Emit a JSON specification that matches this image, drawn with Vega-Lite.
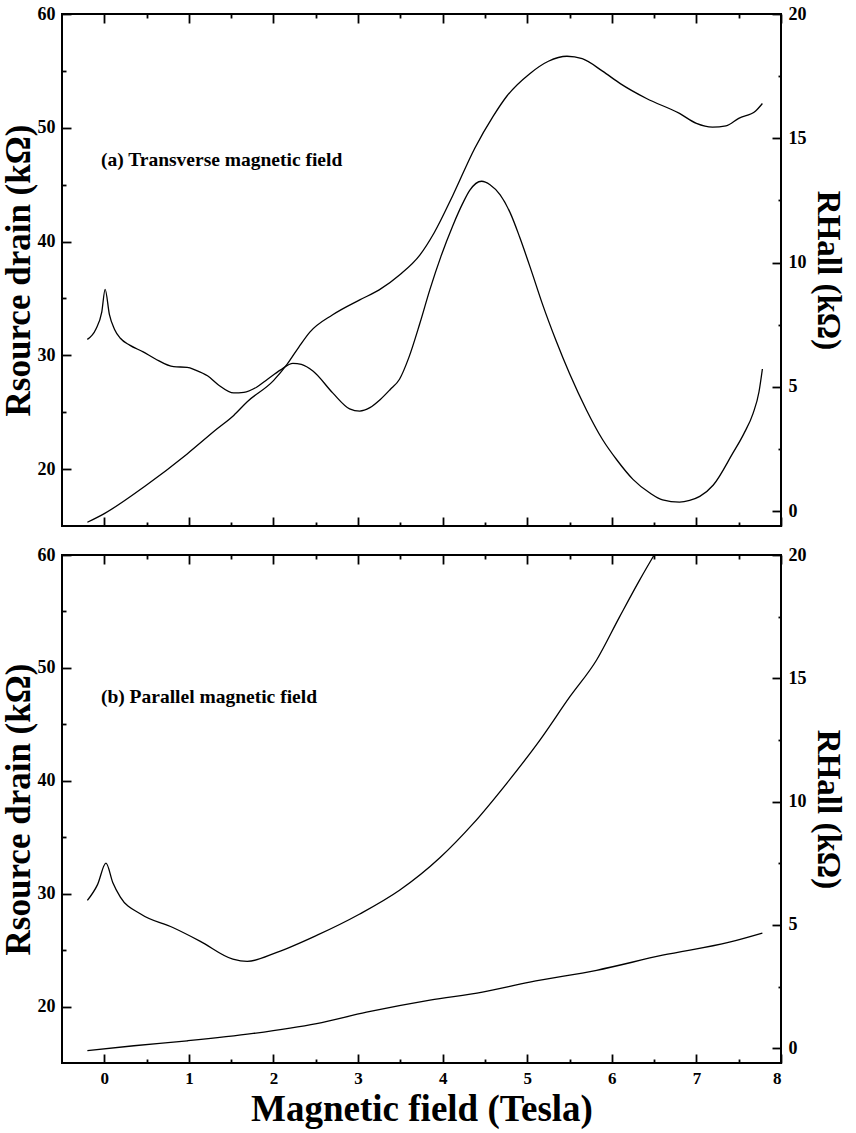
{
  "$schema": "https://vega.github.io/schema/vega-lite/v6.json",
  "background": "white",
  "padding": {"left": 0, "top": 4, "right": 4, "bottom": 4},
  "config": {
    "font": "Liberation Serif",
    "view": {"stroke": "black", "strokeWidth": 2},
    "axis": {
      "labelFont": "Liberation Serif",
      "labelFontWeight": "bold",
      "labelFontSize": 18,
      "labelColor": "black",
      "titleFont": "Liberation Serif",
      "titleFontWeight": "bold",
      "titleColor": "black",
      "domain": false,
      "ticks": true,
      "tickColor": "black",
      "tickOpacity": 1,
      "tickWidth": 1.8,
      "tickSize": 9,
      "offset": -9,
      "labelPadding": 7,
      "zindex": 1,
      "grid": false
    },
    "line": {"color": "black", "strokeWidth": 1.3, "interpolate": "monotone"}
  },
  "datasets": {
    "a_sd": [
      {"B": -0.2, "R": 31.4}, {"B": -0.1, "R": 32.3}, {"B": -0.03, "R": 33.8}, {"B": 0.01, "R": 35.8},
      {"B": 0.06, "R": 33.6}, {"B": 0.12, "R": 32.3}, {"B": 0.19, "R": 31.5}, {"B": 0.3, "R": 30.9},
      {"B": 0.46, "R": 30.3}, {"B": 0.6, "R": 29.7}, {"B": 0.82, "R": 29.0}, {"B": 0.98, "R": 28.95},
      {"B": 1.08, "R": 28.7}, {"B": 1.22, "R": 28.2}, {"B": 1.35, "R": 27.4}, {"B": 1.53, "R": 26.7},
      {"B": 1.65, "R": 26.75}, {"B": 1.8, "R": 27.2}, {"B": 1.93, "R": 27.9}, {"B": 2.08, "R": 28.7},
      {"B": 2.23, "R": 29.3}, {"B": 2.33, "R": 29.2}, {"B": 2.47, "R": 28.6}, {"B": 2.7, "R": 26.7},
      {"B": 2.9, "R": 25.3}, {"B": 3.02, "R": 25.1}, {"B": 3.14, "R": 25.4}, {"B": 3.26, "R": 26.1},
      {"B": 3.38, "R": 27.0}, {"B": 3.49, "R": 27.9}, {"B": 3.6, "R": 29.8}, {"B": 3.73, "R": 32.8},
      {"B": 3.85, "R": 35.8}, {"B": 3.98, "R": 38.7}, {"B": 4.12, "R": 41.4}, {"B": 4.24, "R": 43.4},
      {"B": 4.32, "R": 44.5}, {"B": 4.46, "R": 45.3}, {"B": 4.56, "R": 45.0}, {"B": 4.68, "R": 44.1},
      {"B": 4.8, "R": 42.5}, {"B": 4.91, "R": 40.4}, {"B": 5.05, "R": 37.4}, {"B": 5.18, "R": 34.5},
      {"B": 5.34, "R": 31.3}, {"B": 5.5, "R": 28.4}, {"B": 5.7, "R": 25.2}, {"B": 5.89, "R": 22.6},
      {"B": 6.06, "R": 20.8}, {"B": 6.25, "R": 19.1}, {"B": 6.45, "R": 17.9}, {"B": 6.6, "R": 17.3},
      {"B": 6.8, "R": 17.1}, {"B": 6.92, "R": 17.25}, {"B": 7.04, "R": 17.6}, {"B": 7.2, "R": 18.6},
      {"B": 7.43, "R": 21.4}, {"B": 7.56, "R": 23.1}, {"B": 7.67, "R": 24.9}, {"B": 7.74, "R": 26.8},
      {"B": 7.78, "R": 28.8}
    ],
    "a_hall": [
      {"B": -0.2, "R": -0.45}, {"B": 0.0, "R": -0.1}, {"B": 0.5, "R": 1.05}, {"B": 0.98, "R": 2.3},
      {"B": 1.33, "R": 3.3}, {"B": 1.53, "R": 3.85}, {"B": 1.69, "R": 4.4}, {"B": 2.0, "R": 5.25},
      {"B": 2.16, "R": 5.9}, {"B": 2.3, "R": 6.6}, {"B": 2.43, "R": 7.2}, {"B": 2.7, "R": 7.9},
      {"B": 3.02, "R": 8.5}, {"B": 3.25, "R": 8.9}, {"B": 3.49, "R": 9.5}, {"B": 3.73, "R": 10.3},
      {"B": 3.9, "R": 11.2}, {"B": 4.12, "R": 12.7}, {"B": 4.38, "R": 14.6}, {"B": 4.6, "R": 15.9},
      {"B": 4.76, "R": 16.7}, {"B": 5.03, "R": 17.6}, {"B": 5.25, "R": 18.1}, {"B": 5.47, "R": 18.3},
      {"B": 5.65, "R": 18.2}, {"B": 5.89, "R": 17.7}, {"B": 6.1, "R": 17.2}, {"B": 6.41, "R": 16.6},
      {"B": 6.8, "R": 16.0}, {"B": 7.0, "R": 15.6}, {"B": 7.19, "R": 15.45}, {"B": 7.35, "R": 15.5},
      {"B": 7.5, "R": 15.8}, {"B": 7.7, "R": 16.1}, {"B": 7.78, "R": 16.4}
    ],
    "b_sd": [
      {"B": -0.2, "R": 29.4}, {"B": -0.08, "R": 30.8}, {"B": 0.02, "R": 32.7}, {"B": 0.1, "R": 31.0},
      {"B": 0.19, "R": 29.7}, {"B": 0.43, "R": 28.2}, {"B": 0.81, "R": 27.0}, {"B": 1.13, "R": 25.8},
      {"B": 1.52, "R": 24.2}, {"B": 1.69, "R": 24.0}, {"B": 2.04, "R": 24.8}, {"B": 2.51, "R": 26.3},
      {"B": 3.02, "R": 28.2}, {"B": 3.49, "R": 30.3}, {"B": 3.97, "R": 33.2}, {"B": 4.36, "R": 36.2},
      {"B": 4.76, "R": 39.8}, {"B": 5.15, "R": 43.6}, {"B": 5.5, "R": 47.4}, {"B": 5.82, "R": 50.7},
      {"B": 6.09, "R": 54.5}, {"B": 6.33, "R": 57.8}, {"B": 6.5, "R": 60.0}
    ],
    "b_hall": [
      {"B": -0.2, "R": -0.1}, {"B": 0.35, "R": 0.1}, {"B": 0.98, "R": 0.3}, {"B": 1.76, "R": 0.6},
      {"B": 2.51, "R": 1.0}, {"B": 3.1, "R": 1.46}, {"B": 3.85, "R": 1.95}, {"B": 4.47, "R": 2.27},
      {"B": 5.03, "R": 2.68}, {"B": 5.82, "R": 3.16}, {"B": 6.6, "R": 3.77}, {"B": 7.39, "R": 4.3},
      {"B": 7.78, "R": 4.67}
    ],
    "none": []
  },
  "spacing": 17,
  "vconcat": [
    {
      "width": 719,
      "height": 512,
      "resolve": {"scale": {"y": "independent"}, "axis": {"x": "independent"}},
      "layer": [
        {
          "layer": [
            {
              "data": {"name": "a_sd"},
              "mark": {"type": "line"},
              "encoding": {
                "x": {"field": "B", "type": "quantitative", "scale": {"domain": [-0.5, 8], "nice": false, "zero": false},
                  "axis": {"orient": "bottom", "values": [0,1,2,3,4,5,6,7,8], "labels": false, "title": null}},
                "y": {"field": "R", "type": "quantitative", "scale": {"domain": [15, 60], "nice": false, "zero": false},
                  "axis": {"orient": "left", "values": [20,30,40,50,60], "format": "d",
                    "title": "Rsource drain (kΩ)", "titleFontSize": 35, "titlePadding": 1}}
              }
            },
            {
              "data": {"values": [{"label": "(a) Transverse magnetic field"}]},
              "mark": {"type": "text", "align": "left", "baseline": "middle", "font": "Liberation Serif", "fontWeight": "bold", "fontSize": 19.5, "color": "black"},
              "encoding": {
                "x": {"datum": -0.04, "type": "quantitative"},
                "y": {"datum": 47.2, "type": "quantitative"},
                "text": {"field": "label"}
              }
            }
          ]
        },
        {
          "data": {"name": "a_hall"},
          "mark": {"type": "line"},
          "encoding": {
            "x": {"field": "B", "type": "quantitative", "scale": {"domain": [-0.5, 8], "nice": false, "zero": false},
              "axis": {"orient": "top", "values": [0,1,2,3,4,5,6,7,8], "labels": false, "title": null}},
            "y": {"field": "R", "type": "quantitative", "scale": {"domain": [-0.6, 20], "nice": false, "zero": false},
              "axis": {"orient": "right", "values": [0,5,10,15,20], "format": "d",
                "title": "RHall (kΩ)", "titleFontSize": 33, "titlePadding": 4}}
          }
        },
        {
          "data": {"name": "none"},
          "mark": {"type": "point"},
          "encoding": {
            "x": {"field": "B", "type": "quantitative", "scale": {"domain": [-0.5, 8], "nice": false, "zero": false},
              "axis": {"orient": "bottom", "values": [0.5,1.5,2.5,3.5,4.5,5.5,6.5,7.5], "labels": false, "title": null, "tickSize": 4, "offset": -4}},
            "y": {"field": "R", "type": "quantitative", "scale": {"domain": [15, 60], "nice": false, "zero": false},
              "axis": {"orient": "left", "values": [25,35,45,55], "labels": false, "title": null, "tickSize": 4, "offset": -4}}
          }
        },
        {
          "data": {"name": "none"},
          "mark": {"type": "point"},
          "encoding": {
            "x": {"field": "B", "type": "quantitative", "scale": {"domain": [-0.5, 8], "nice": false, "zero": false},
              "axis": {"orient": "top", "values": [0.5,1.5,2.5,3.5,4.5,5.5,6.5,7.5], "labels": false, "title": null, "tickSize": 4, "offset": -4}},
            "y": {"field": "R", "type": "quantitative", "scale": {"domain": [-0.6, 20], "nice": false, "zero": false},
              "axis": {"orient": "right", "values": [2.5,7.5,12.5,17.5], "labels": false, "title": null, "tickSize": 3, "offset": -3}}
          }
        }
      ]
    },
    {
      "width": 719,
      "height": 508,
      "resolve": {"scale": {"y": "independent"}, "axis": {"x": "independent"}},
      "layer": [
        {
          "layer": [
            {
              "data": {"name": "b_sd"},
              "mark": {"type": "line"},
              "encoding": {
                "x": {"field": "B", "type": "quantitative", "scale": {"domain": [-0.5, 8], "nice": false, "zero": false},
                  "axis": {"orient": "bottom", "values": [0,1,2,3,4,5,6,7,8], "format": "d", "labelFontSize": 17,
                    "title": "Magnetic field (Tesla)", "titleFontSize": 37, "titlePadding": 5}},
                "y": {"field": "R", "type": "quantitative", "scale": {"domain": [15, 60], "nice": false, "zero": false},
                  "axis": {"orient": "left", "values": [20,30,40,50,60], "format": "d",
                    "title": "Rsource drain (kΩ)", "titleFontSize": 35, "titlePadding": 1}}
              }
            },
            {
              "data": {"values": [{"label": "(b) Parallel magnetic field"}]},
              "mark": {"type": "text", "align": "left", "baseline": "middle", "font": "Liberation Serif", "fontWeight": "bold", "fontSize": 19.5, "color": "black"},
              "encoding": {
                "x": {"datum": -0.04, "type": "quantitative"},
                "y": {"datum": 47.4, "type": "quantitative"},
                "text": {"field": "label"}
              }
            }
          ]
        },
        {
          "data": {"name": "b_hall"},
          "mark": {"type": "line"},
          "encoding": {
            "x": {"field": "B", "type": "quantitative", "scale": {"domain": [-0.5, 8], "nice": false, "zero": false},
              "axis": {"orient": "top", "values": [0,1,2,3,4,5,6,7,8], "labels": false, "title": null}},
            "y": {"field": "R", "type": "quantitative", "scale": {"domain": [-0.6, 20], "nice": false, "zero": false},
              "axis": {"orient": "right", "values": [0,5,10,15,20], "format": "d",
                "title": "RHall (kΩ)", "titleFontSize": 33, "titlePadding": 4}}
          }
        },
        {
          "data": {"name": "none"},
          "mark": {"type": "point"},
          "encoding": {
            "x": {"field": "B", "type": "quantitative", "scale": {"domain": [-0.5, 8], "nice": false, "zero": false},
              "axis": {"orient": "bottom", "values": [0.5,1.5,2.5,3.5,4.5,5.5,6.5,7.5], "labels": false, "title": null, "tickSize": 4, "offset": -4}},
            "y": {"field": "R", "type": "quantitative", "scale": {"domain": [15, 60], "nice": false, "zero": false},
              "axis": {"orient": "left", "values": [25,35,45,55], "labels": false, "title": null, "tickSize": 4, "offset": -4}}
          }
        },
        {
          "data": {"name": "none"},
          "mark": {"type": "point"},
          "encoding": {
            "x": {"field": "B", "type": "quantitative", "scale": {"domain": [-0.5, 8], "nice": false, "zero": false},
              "axis": {"orient": "top", "values": [0.5,1.5,2.5,3.5,4.5,5.5,6.5,7.5], "labels": false, "title": null, "tickSize": 4, "offset": -4}},
            "y": {"field": "R", "type": "quantitative", "scale": {"domain": [-0.6, 20], "nice": false, "zero": false},
              "axis": {"orient": "right", "values": [2.5,7.5,12.5,17.5], "labels": false, "title": null, "tickSize": 3, "offset": -3}}
          }
        }
      ]
    }
  ]
}
